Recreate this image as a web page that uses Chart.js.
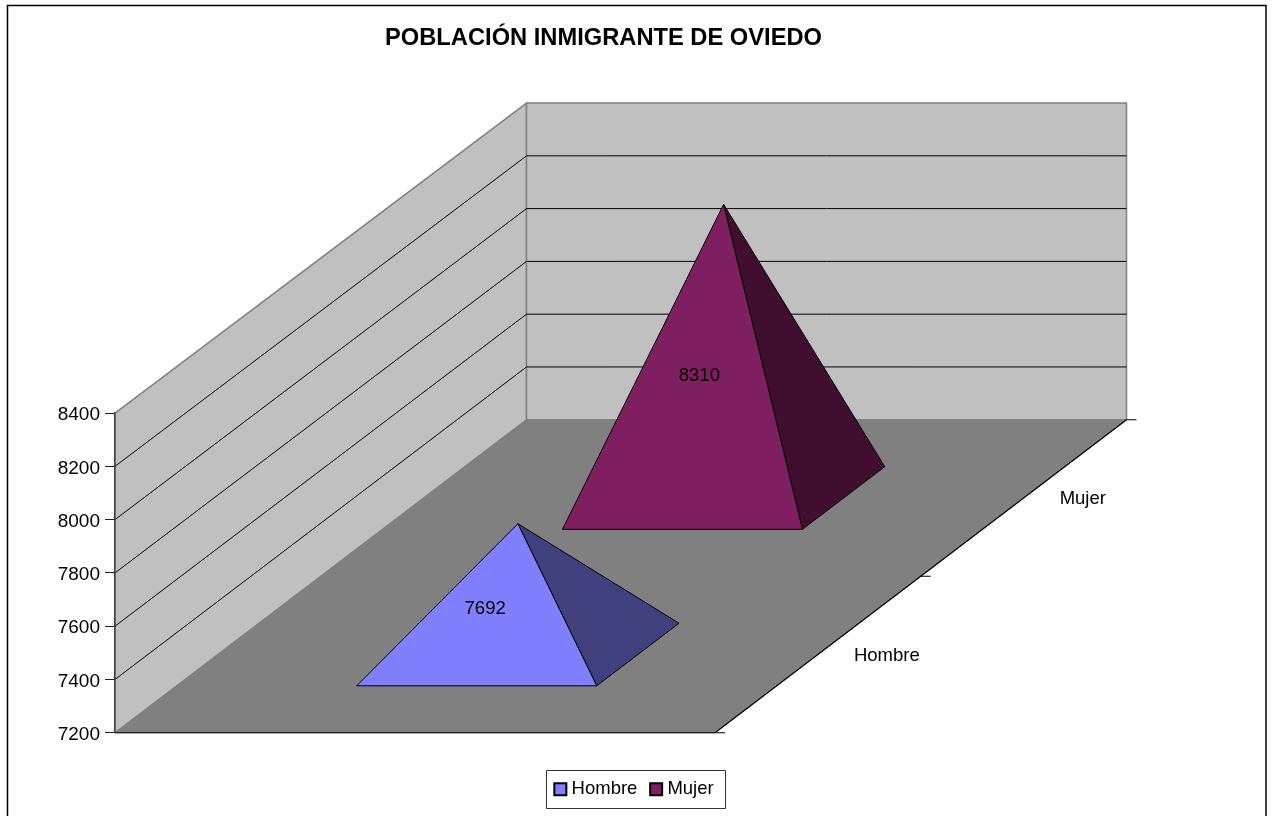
<!DOCTYPE html>
<html><head><meta charset="utf-8">
<style>html,body{margin:0;padding:0;background:#fff}canvas{display:block}</style>
<script src="https://cdn.jsdelivr.net/npm/chart.js@4"></script>
</head><body><canvas id="c" width="1273" height="816"></canvas>
<script>
const chartTitle = 'POBLACIÓN INMIGRANTE DE OVIEDO';
const categories = ['Hombre', 'Mujer'];
const hombreValues = [7692, null];
const mujerValues = [null, 8310];
const yMin = 7200, yMax = 8400, yStep = 200;

const FONT = '"Liberation Sans", Arial, sans-serif';
const DEPTH_DX = 411.5, DEPTH_DY = 313, DEPTH_SHRINK = 0.0094;

function project(chart, xPx, t, yPx) {
  const a = chart.chartArea;
  return {
    x: xPx + t * DEPTH_DX,
    y: a.bottom - t * DEPTH_DY - (a.bottom - yPx) * (1 - DEPTH_SHRINK * t)
  };
}
function poly(ctx, pts, fill, stroke, lw) {
  ctx.beginPath();
  pts.forEach((p, i) => i ? ctx.lineTo(p.x, p.y) : ctx.moveTo(p.x, p.y));
  ctx.closePath();
  if (fill) { ctx.fillStyle = fill; ctx.fill(); }
  if (stroke) { ctx.strokeStyle = stroke; ctx.lineWidth = lw || 1; ctx.lineJoin = 'round'; ctx.stroke(); }
}
function seg(ctx, a, b, color, lw) {
  ctx.beginPath(); ctx.moveTo(a.x, a.y); ctx.lineTo(b.x, b.y);
  ctx.strokeStyle = color; ctx.lineWidth = lw || 1; ctx.stroke();
}

class PyramidController extends Chart.BarController {
  draw() {
    const chart = this.chart, ctx = chart.ctx, a = chart.chartArea;
    const ds = this.getDataset();
    const cw = a.right - a.left;
    this.getMeta().data.forEach((el, i) => {
      if (ds.data[i] === null || !Number.isFinite(el.y)) return;
      const tc = (el.x - a.left) / cw;
      const halfT = (el.width / 2) / cw;
      const cx = (a.left + a.right) / 2, half = el.width;
      const fl = project(chart, cx - half, tc - halfT, a.bottom);
      const fr = project(chart, cx + half, tc - halfT, a.bottom);
      const br = project(chart, cx + half, tc + halfT, a.bottom);
      const apex = project(chart, cx, tc, el.y);
      poly(ctx, [fr, br, apex], ds.sideColor, '#000', 1);
      poly(ctx, [fl, fr, apex], ds.backgroundColor, '#000', 1);
      const fcx = (fl.x + fr.x) / 2, h = fl.y - apex.y;
      ctx.fillStyle = '#000';
      ctx.font = '18.5px ' + FONT;
      ctx.textAlign = 'center'; ctx.textBaseline = 'middle';
      ctx.fillText(String(ds.data[i]), fcx + 0.052 * h, fl.y - 0.472 * h);
    });
  }
}
PyramidController.id = 'pyramid';
PyramidController.defaults = Chart.BarController.defaults;
PyramidController.overrides = Chart.BarController.overrides;
Chart.register(PyramidController);

const scene = {
  id: 'scene',
  afterLayout(chart) {
    chart.titleBlock.left = 0; chart.titleBlock.right = 1207;
    const lg = chart.legend;
    lg.left = 436; lg.right = 836;
    lg.top = 790 - lg.options.labels.padding - 10;
    lg.bottom = lg.top + 40;
  },
  beforeDraw(chart) {
    const ctx = chart.ctx, a = chart.chartArea, y = chart.scales.y;
    ctx.save();
    ctx.fillStyle = '#fff'; ctx.fillRect(0, 0, chart.width, chart.height);
    ctx.strokeStyle = '#000'; ctx.lineWidth = 1.5;
    ctx.strokeRect(7.5, 5.5, 1258.5, 900);
    const P = (x, t, v) => project(chart, x, t, y.getPixelForValue(v));
    const fl = a.left, fr = a.right;
    const wallL = [P(fl,0,yMin), P(fl,0,yMax), P(fl,1,yMax), P(fl,1,yMin)];
    const wallB = [P(fl,1,yMin), P(fl,1,yMax), P(fr,1,yMax), P(fr,1,yMin)];
    poly(ctx, wallL, '#C0C0C0', '#808080', 1.5);
    poly(ctx, wallB, '#C0C0C0', '#808080', 1.5);
    const floor = [P(fl,0,yMin), P(fr,0,yMin), P(fr,1,yMin), P(fl,1,yMin)];
    poly(ctx, floor, '#808080', '#808080', 1);
    seg(ctx, floor[0], floor[1], '#000', 1.2);
    seg(ctx, floor[1], floor[2], '#000', 1.2);
    y.ticks.forEach(tk => {
      if (tk.value === yMin || tk.value === yMax) return;
      const a0 = P(fl,0,tk.value), a1 = P(fl,1,tk.value), a2 = P(fr,1,tk.value);
      seg(ctx, a0, a1, '#000', 1);
      seg(ctx, a1, a2, '#000', 1);
    });
    [0, 0.5, 1].forEach(t => {
      const p = P(fr, t, yMin);
      seg(ctx, p, {x: p.x + 10, y: p.y}, '#000', 1);
    });
    ctx.restore();
  },
  afterDraw(chart) {
    const ctx = chart.ctx, a = chart.chartArea, x = chart.scales.x, cw = a.right - a.left;
    ctx.save();
    ctx.fillStyle = '#000';
    ctx.font = '18.5px ' + FONT;
    ctx.textAlign = 'left'; ctx.textBaseline = 'middle';
    categories.forEach((c, i) => {
      const t = (x.getPixelForValue(i) - a.left) / cw;
      const p = project(chart, a.right, t, a.bottom);
      ctx.fillText(c, p.x + 36, p.y + 1);
    });
    ctx.strokeStyle = '#333'; ctx.lineWidth = 1;
    ctx.strokeRect(546.5, 770.5, 179, 38);
    ctx.restore();
  }
};

new Chart(document.getElementById('c'), {
  type: 'pyramid',
  data: {
    labels: categories,
    datasets: [
      { label: 'Hombre', data: hombreValues, backgroundColor: '#8080FF', sideColor: '#40407F',
        borderColor: '#000', borderWidth: 2, clip: false },
      { label: 'Mujer', data: mujerValues, backgroundColor: '#7F1F5F', sideColor: '#400F30',
        borderColor: '#000', borderWidth: 2, clip: false }
    ]
  },
  options: {
    responsive: false,
    animation: false,
    events: [],
    grouped: false,
    categoryPercentage: 1,
    barPercentage: 0.4,
    layout: { padding: { left: 55, right: 558, top: 0, bottom: 38 } },
    scales: {
      x: { type: 'category', offset: true, display: false },
      y: {
        type: 'linear', min: yMin, max: yMax,
        afterFit(s) { s.width = 60; },
        ticks: { stepSize: yStep, color: '#000', padding: 5, labelOffset: 2, font: { family: FONT, size: 19 }, callback: v => String(v) },
        grid: { drawOnChartArea: false, drawTicks: true, tickLength: 10, tickColor: '#222', tickWidth: 1 },
        border: { display: true, color: '#404040', width: 1.5 }
      }
    },
    plugins: {
      tooltip: { enabled: false },
      title: {
        display: true, text: chartTitle, color: '#000',
        font: { family: FONT, size: 23.7, weight: 'bold', lineHeight: 1.2 },
        padding: { top: 24, bottom: 360.6 }
      },
      legend: {
        position: 'bottom',
        labels: {
          color: '#000', font: { family: FONT, size: 18.5 },
          usePointStyle: true, pointStyle: 'rect', boxWidth: 4, boxHeight: 12, padding: 16.75
        }
      }
    }
  },
  plugins: [scene]
});
</script></body></html>
